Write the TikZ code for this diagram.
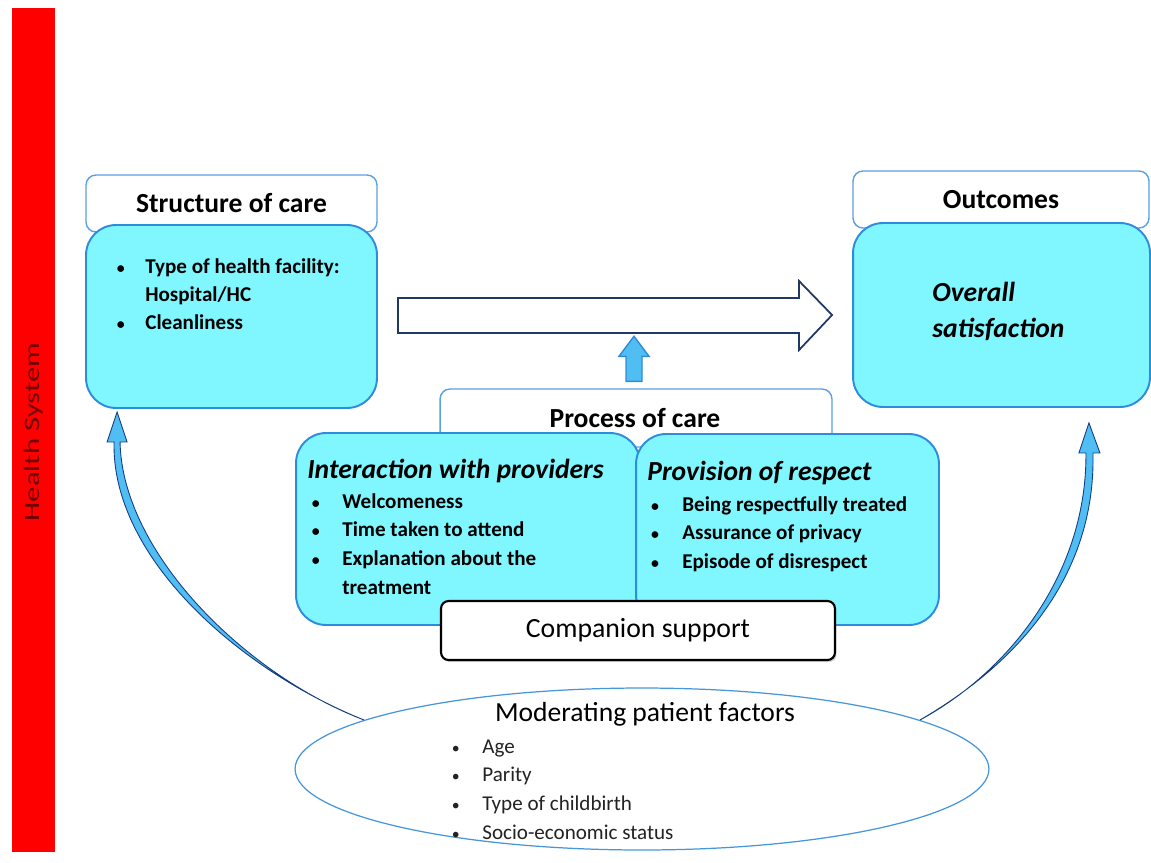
\documentclass[tikz,border=0pt]{standalone}
\usepackage{fontspec}
\setmainfont{Carlito}
\usetikzlibrary{calc,shapes.geometric,shadows}

\definecolor{cyanfill}{RGB}{128,246,255}
\definecolor{boxblue}{RGB}{46,140,220}
\definecolor{hdrblue}{RGB}{91,160,225}
\definecolor{navyline}{RGB}{31,56,100}
\definecolor{hsred}{RGB}{255,0,0}
\definecolor{hstext}{RGB}{110,0,0}
\definecolor{ellblue}{RGB}{70,150,220}
\definecolor{curvefill}{RGB}{80,190,242}
\definecolor{curveline}{RGB}{20,60,130}
\definecolor{listgray}{RGB}{35,35,35}

\newcommand{\bul}[1]{\makebox[#1][l]{\hspace{1.5pt}\scalebox{0.75}{\textbullet}}}

\tikzset{
  hdrbox/.style={draw=hdrblue, fill=white, line width=0.8pt, rounded corners=0.2cm, inner sep=0pt},
  cyanbox/.style={draw=boxblue, fill=cyanfill, line width=1.1pt, rounded corners=0.6cm, inner sep=0pt},
  hdrtext/.style={font=\fontsize{15.7}{18}\selectfont\bfseries},
  titletext/.style={font=\fontsize{15.7}{18}\selectfont\bfseries\itshape, anchor=base west, inner sep=0pt},
  listtext/.style={anchor=base west, inner sep=0pt},
  bigarrow/.style={draw=navyline, fill=white, line width=1pt, line join=miter},
  uparrow/.style={draw=boxblue, fill=curvefill, line width=0.8pt, line join=miter},
  curvarrow/.style={draw=curveline, fill=curvefill, line width=0.5pt, line join=miter},
}

\begin{document}
\begin{tikzpicture}[x=0.02cm, y=-0.02cm]
\useasboundingbox (0,0) rectangle (1151,862);

% health system band
\node[fill=hsred, minimum width=0.86cm, minimum height=16.88cm, inner sep=0pt] (hs) at (33.5,430) {};
\node[rotate=90, text=hstext, inner sep=0pt] (hslabel) at (34,432)
  {\scalebox{1.4}[1]{\fontsize{12.5}{14}\selectfont Health System}};

% structure of care
\node[hdrbox, minimum width=5.82cm, minimum height=1.14cm, hdrtext] (strhdr) at (231.5,203.5) {Structure of care};
\node[cyanbox, minimum width=5.82cm, minimum height=3.66cm] (strbody) at (231.5,316.5) {};
\node[listtext] (strlist) at (114,273)
  {\fontsize{12}{16.2}\selectfont\bfseries
   \begin{tabular}[t]{@{}l@{}l@{}}
   \bul{0.62cm} & Type of health facility:\\
                & Hospital/HC\\
   \bul{0.62cm} & Cleanliness
   \end{tabular}};

% outcomes
\node[hdrbox, minimum width=5.92cm, minimum height=1.14cm, hdrtext] (outhdr) at (1001,199.5) {Outcomes};
\node[cyanbox, minimum width=5.94cm, minimum height=3.68cm] (outbody) at (1001.5,315) {};
\node[listtext, font=\fontsize{15.7}{21}\selectfont\bfseries\itshape] (outtext) at (932,301)
  {\begin{tabular}[t]{@{}l@{}}
   Overall\\
   satisfaction
   \end{tabular}};

% main flow arrow from structure to outcomes
\coordinate (ba0) at ($(strbody.east)+(20,-1)$);
\coordinate (ba1) at ($(outbody.west)+(-20,0)$);
\draw[bigarrow] ($(ba0)+(0,-17.5)$) -- ($(ba1)+(-33,-17)$) -- ($(ba1)+(-33,-34)$) -- (ba1)
  -- ($(ba1)+(-33,35)$) -- ($(ba1)+(-33,18)$) -- ($(ba0)+(0,17.5)$) -- cycle;

% process of care
\node[hdrbox, minimum width=7.84cm, minimum height=1.16cm, hdrtext] (prochdr) at (636,418) {};
\node[hdrtext, inner sep=0pt] (proclabel) at (635,418) {Process of care};

% up arrow from process to the main flow
\coordinate (ua0) at ($(prochdr.north)+(-2,-7)$);
\coordinate (ua1) at ($(ua0)+(0,-45)$);
\draw[uparrow] ($(ua0)+(-8,0)$) -- ($(ua0)+(-8,-25)$) -- ($(ua0)+(-15,-25)$) -- (ua1)
  -- ($(ua0)+(15,-25)$) -- ($(ua0)+(8,-25)$) -- ($(ua0)+(8,0)$) -- cycle;

\node[cyanbox, minimum width=6.88cm, minimum height=3.84cm] (interbox) at (468,529) {};
\node[cyanbox, minimum width=6.06cm, minimum height=3.82cm] (respbox) at (787.5,529.5) {};

\node[titletext] (intertitle) at (307,478) {Interaction with providers};
\node[listtext] (interlist) at (309,508)
  {\fontsize{12}{16.4}\selectfont\bfseries
   \begin{tabular}[t]{@{}l@{}l@{}}
   \bul{0.66cm} & Welcomeness\\
   \bul{0.66cm} & Time taken to attend\\
   \bul{0.66cm} & Explanation about the\\
                & treatment
   \end{tabular}};

\node[titletext] (resptitle) at (647,480) {Provision of respect};
\node[listtext] (resplist) at (648,511)
  {\fontsize{12}{16.4}\selectfont\bfseries
   \begin{tabular}[t]{@{}l@{}l@{}}
   \bul{0.68cm} & Being respectfully treated\\
   \bul{0.68cm} & Assurance of privacy\\
   \bul{0.68cm} & Episode of disrespect
   \end{tabular}};

% companion support
\node[draw=black, fill=white, line width=1.2pt, rounded corners=0.15cm,
      minimum width=7.88cm, minimum height=1.18cm, inner sep=0pt,
      drop shadow={shadow xshift=0.8pt, shadow yshift=-1.2pt, opacity=0.35},
      font=\fontsize{15.8}{18}\selectfont] (comp) at (638,630.5) {Companion support};

% moderating patient factors
\node[ellipse, draw=ellblue, fill=white, line width=0.7pt, minimum width=13.88cm,
      minimum height=3.24cm, inner sep=0pt] (ell) at (642,769) {};
\node[font=\fontsize{15.7}{18}\selectfont, inner sep=0pt] (elltitle) at (645,714) {Moderating patient factors};
\node[listtext, text=listgray] (elllist) at (449,753)
  {\fontsize{12}{16.4}\selectfont
   \begin{tabular}[t]{@{}l@{}l@{}}
   \bul{0.66cm} & Age\\
   \bul{0.66cm} & Parity\\
   \bul{0.66cm} & Type of childbirth\\
   \bul{0.66cm} & Socio-economic status
   \end{tabular}};

% curved arrows from patient factors to structure and outcomes
\coordinate (la) at (ell.170);
\coordinate (lt) at ($(strbody.south west)+(32,3)$);
\filldraw[curvarrow] (la) .. controls +(-125,-50) and +(-3,115) .. ($(lt)+(-3,30)$)
  -- ($(lt)+(-10,30)$) -- (lt) -- ($(lt)+(10,30)$) -- ($(lt)+(3,30)$)
  .. controls +(2,110) and +(-120,-46) .. (la) -- cycle;

\coordinate (ra) at (ell.10);
\coordinate (rt) at ($(outbody.south east)+(-62,15)$);
\filldraw[curvarrow] (ra) .. controls +(95,-55) and +(3,125) .. ($(rt)+(4,30)$)
  -- ($(rt)+(11,30)$) -- (rt) -- ($(rt)+(-10,30)$) -- ($(rt)+(-3,30)$)
  .. controls +(1,118) and +(92,-50) .. (ra) -- cycle;
\end{tikzpicture}
\end{document}
